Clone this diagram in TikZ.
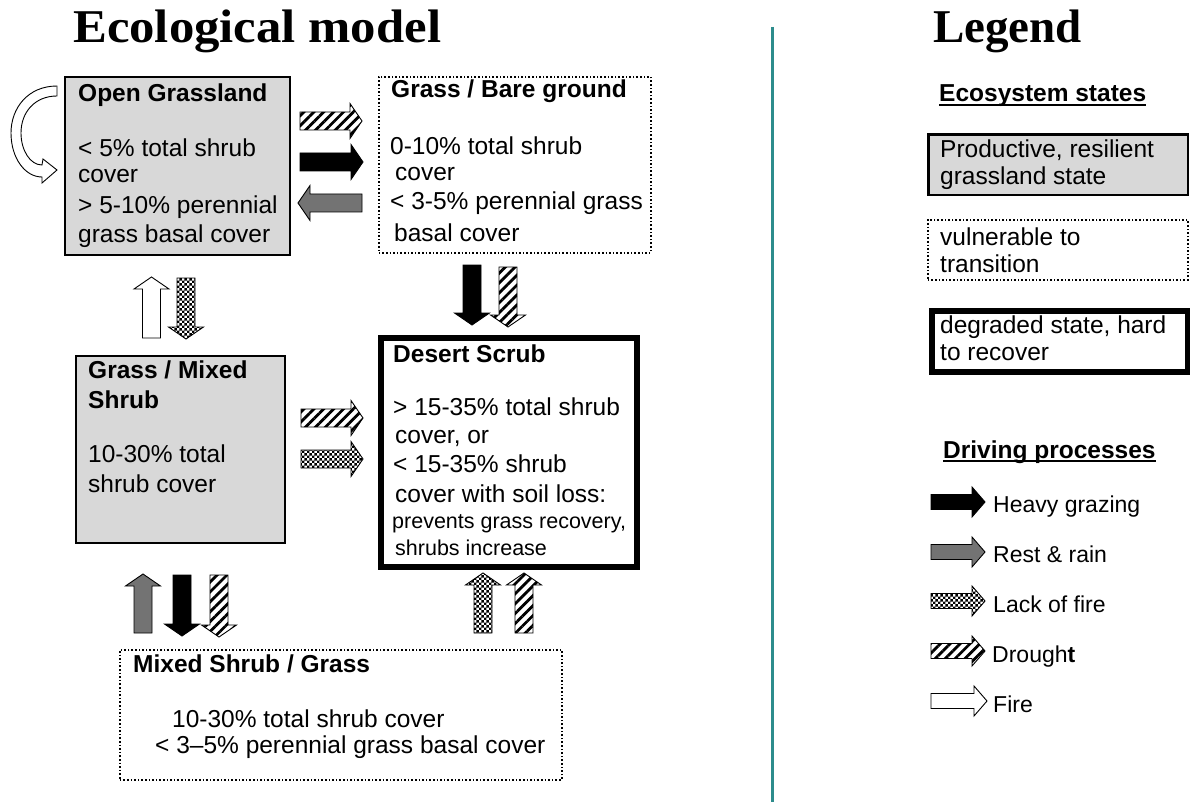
\documentclass[tikz,border=0pt]{standalone}
\usepackage{fontspec}
\usepackage{graphicx}
\setmainfont{Liberation Sans}
\newfontfamily\serifT{Liberation Serif}
\usetikzlibrary{patterns,patterns.meta}
\definecolor{boxgray}{RGB}{216,216,216}
\definecolor{tealline}{RGB}{45,140,140}
\pgfdeclarepatternformonly{checkerp}{\pgfqpoint{0pt}{0pt}}{\pgfqpoint{5.4pt}{5.4pt}}{\pgfqpoint{5.4pt}{5.4pt}}{%
 \pgfpathrectangle{\pgfqpoint{0pt}{0pt}}{\pgfqpoint{2.7pt}{2.7pt}}%
 \pgfpathrectangle{\pgfqpoint{2.7pt}{2.7pt}}{\pgfqpoint{2.7pt}{2.7pt}}%
 \pgfusepath{fill}}
\newcommand\ArSw{9}
\newcommand\ArHw{17.5}
\newcommand\ArHl{12}
\newcommand\HArr[4]{%
 \pgfmathsetmacro\ArB{#3-sign(#3-#2)*\ArHl}%
 \path[#1] (#2,#4-\ArSw) -- (\ArB,#4-\ArSw) -- (\ArB,#4-\ArHw) -- (#3,#4) -- (\ArB,#4+\ArHw) -- (\ArB,#4+\ArSw) -- (#2,#4+\ArSw) -- cycle;}
\newcommand\VArr[4]{%
 \pgfmathsetmacro\ArB{#4-sign(#4-#3)*\ArHl}%
 \path[#1] (#2-\ArSw,#3) -- (#2-\ArSw,\ArB) -- (#2-\ArHw,\ArB) -- (#2,#4) -- (#2+\ArHw,\ArB) -- (#2+\ArSw,\ArB) -- (#2+\ArSw,#3) -- cycle;}
\newcommand\TL[4]{\node[tl] (#1) at (#2,#3) {#4};}
\tikzset{
 tl/.style={anchor=base west, inner sep=0pt, font=\fontsize{24.5}{28}\selectfont},
 boxbase/.style={rectangle, anchor=north west, inner sep=0pt},
 solidbox/.style={boxbase, draw=black, line width=2pt, fill=boxgray},
 dotbox/.style={boxbase, draw=black, line width=1.6pt, dotted},
 thickbox/.style={boxbase, draw=black, line width=6pt, fill=white},
 arr/.style={draw=black, line width=0.9pt, line join=miter},
 hatcharr/.style={arr, pattern={Lines[angle=45,distance=7pt,line width=2.8pt]}},
 blackarr/.style={arr, fill=black},
 grayarr/.style={arr, fill=black!55},
 checkarr/.style={arr, pattern=checkerp},
 whitearr/.style={arr, fill=white},
 title/.style={anchor=base west, inner sep=0pt, font=\serifT\bfseries\fontsize{47}{55}\selectfont},
}
\begin{document}
\begin{tikzpicture}[x=1pt,y=-1pt]
\fill[white] (0,0) rectangle (1190,802);
\useasboundingbox (0,0) rectangle (1190,802);

% titles
\node[title] (t1) at (73,43) {\scalebox{1.08}[1]{Ecological model}};
\node[title] (t2) at (933,43) {Legend};
\draw[tealline, line width=3pt] (772,27) -- (772,802);

% boxes
\node[solidbox, minimum width=225pt, minimum height=178pt] (og) at (64,76) {};
\node[dotbox, minimum width=272pt, minimum height=176pt] (gb) at (378,76) {};
\node[solidbox, minimum width=209pt, minimum height=187pt] (gm) at (75,355) {};
\node[thickbox, minimum width=256pt, minimum height=229pt] (ds) at (378,335) {};
\node[dotbox, minimum width=442pt, minimum height=130pt] (ms) at (119,649) {};

% Open Grassland text
\TL{og1}{78}{102}{\textbf{Open Grassland}}
\TL{og2}{78}{157}{< 5\% total shrub}
\TL{og3}{78}{183}{cover}
\TL{og4}{78}{214}{> 5-10\% perennial}
\TL{og5}{78}{243}{grass basal cover}

% Grass / Bare ground text
\TL{gb1}{391}{98}{\textbf{Grass / Bare ground}}
\TL{gb2}{390}{155}{0-10\% total shrub}
\TL{gb3}{395}{181}{cover}
\TL{gb4}{390}{210}{< 3-5\% perennial grass}
\TL{gb5}{394}{241}{basal cover}

% Grass / Mixed Shrub text
\TL{gm1}{88}{378}{\textbf{Grass / Mixed}}
\TL{gm2}{88}{408}{\textbf{Shrub}}
\TL{gm3}{88}{462}{10-30\% total}
\TL{gm4}{88}{492}{shrub cover}

% Desert Scrub text
\TL{ds1}{393}{362}{\textbf{Desert Scrub}}
\TL{ds2}{393}{415}{> 15-35\% total shrub}
\TL{ds3}{395}{443}{cover, or}
\TL{ds4}{393}{472}{< 15-35\% shrub}
\TL{ds5}{395}{502}{cover with soil loss:}
\TL{ds6}{392}{528}{\fontsize{21.5}{25}\selectfont prevents grass recovery,}
\TL{ds7}{395}{555}{\fontsize{21.5}{25}\selectfont shrubs increase}

% Mixed Shrub / Grass text
\TL{ms1}{133}{672}{\textbf{Mixed Shrub / Grass}}
\TL{ms2}{172}{727}{10-30\% total shrub cover}
\TL{ms3}{155}{753}{< 3--5\% perennial grass basal cover}

% curved fire arrow
\path[whitearr] (57,86) .. controls (28,86) and (11,108) .. (11,133)
  .. controls (11,158) and (25,177) .. (42,177) -- (42,183) -- (57,170) -- (43,159) -- (42,165)
  .. controls (30,165) and (21,150) .. (21,133) .. controls (21,112) and (35,96) .. (57,96) -- cycle;

% arrows between boxes
\HArr{hatcharr}{300}{362}{121}
\HArr{blackarr}{300}{363}{162}
\HArr{grayarr}{362}{298}{203}
\VArr{whitearr}{151.5}{338}{277}
\VArr{checkarr}{186}{278}{339}
\VArr{blackarr}{472}{265}{325}
\VArr{hatcharr}{508}{267}{327}
\HArr{hatcharr}{301}{363}{418}
\HArr{checkarr}{301}{363}{459}
\VArr{grayarr}{143}{633}{574}
\VArr{blackarr}{182}{575}{636}
\VArr{hatcharr}{219}{575}{637}
\VArr{checkarr}{483}{633}{573}
\VArr{hatcharr}{524}{633}{573}

% legend
\node[tl, font=\bfseries\fontsize{24.5}{28}\selectfont] (es) at (939,102) {Ecosystem states};
\draw[line width=1.3pt] ([yshift=-3pt]es.base west) -- ([yshift=-3pt]es.base east);
\node[solidbox, line width=2.5pt, minimum width=259.5pt, minimum height=60.5pt] (lg1) at (927.25,133.25) {};
\node[dotbox, minimum width=260pt, minimum height=60pt] (lg2) at (927,219) {};
\node[thickbox, minimum width=256pt, minimum height=61pt] (lg3) at (929,308) {};
\TL{lt1}{940}{158}{Productive, resilient}
\TL{lt2}{940}{185}{grassland state}
\TL{lt3}{940}{245}{vulnerable to}
\TL{lt4}{940}{272}{transition}
\TL{lt5}{940}{333}{degraded state, hard}
\TL{lt6}{940}{360}{to recover}
\node[tl, font=\bfseries\fontsize{24.5}{28}\selectfont] (dp) at (943,458) {Driving processes};
\draw[line width=1.3pt] ([yshift=-3pt]dp.base west) -- ([yshift=-3pt]dp.base east);

\renewcommand\ArSw{7.5}
\renewcommand\ArHw{15}
\renewcommand\ArHl{13}
\HArr{blackarr}{931}{985}{502}
\HArr{grayarr}{931}{985}{552}
\HArr{checkarr}{931}{985}{601}
\HArr{hatcharr}{931}{985}{651}
\HArr{whitearr}{931}{987}{701}
\tikzset{tl/.append style={font=\fontsize{23}{27}\selectfont}}
\TL{p1}{993}{512}{Heavy grazing}
\TL{p2}{993}{562}{Rest \& rain}
\TL{p3}{993}{612}{Lack of fire}
\TL{p4}{992}{662}{Drough\textbf{t}}
\TL{p5}{993}{712}{Fire}
\end{tikzpicture}
\end{document}
